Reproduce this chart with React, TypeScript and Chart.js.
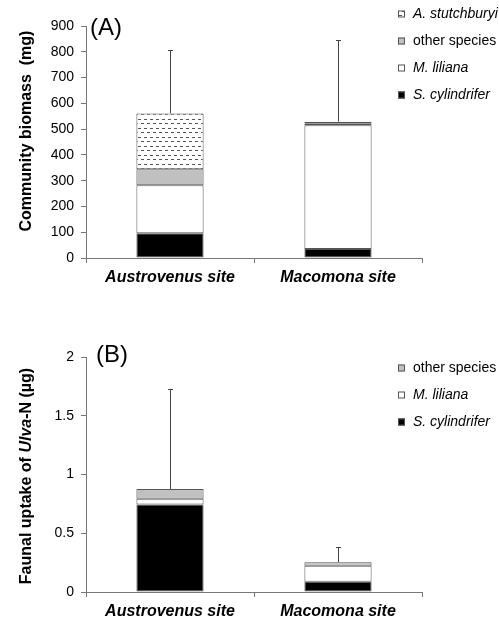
import React, { useEffect, useRef } from "react";
import { Chart, registerables } from "chart.js";

Chart.register(...registerables);

const FONT = "'Liberation Sans', Arial, Helvetica, sans-serif";

// ---------- Data ----------
const categories = ["Austrovenus site", "Macomona site"];

// Panel A: community biomass (mg)
const aSCylindrifer = [96, 35];
const aMLiliana = [186, 480];
const aOtherSpecies = [62, 8];
const aAStutchburyi = [217, 6];
const aErrorUp = [246, 316];
const aYMax = 900;
const aYStep = 100;

// Panel B: faunal uptake of Ulva-N (µg)
const bSCylindrifer = [0.744, 0.088];
const bMLiliana = [0.05, 0.136];
const bOtherSpecies = [0.082, 0.029];
const bErrorUp = [0.853, 0.133];
const bYMax = 2;
const bYStep = 0.5;

const AXIS = "#777";
const EDGE = "#555";
const GRAY = "#c0c0c0";

function makePattern(): CanvasPattern | string {
  const c = document.createElement("canvas");
  c.width = 6;
  c.height = 9;
  const g = c.getContext("2d");
  if (!g) return "#fff";
  g.fillStyle = "#fff";
  g.fillRect(0, 0, 6, 9);
  g.fillStyle = "#555";
  g.fillRect(0, 2, 3, 1);
  g.fillRect(3, 6, 3, 1);
  return g.createPattern(c, "repeat") || "#fff";
}

type LegendItem = { label: string; fill: any; italic: boolean };
type Extra = {
  panel: string;
  panelX: number;
  panelY: number;
  titleParts: { text: string; italic: boolean }[];
  titleX: number;
  titleY: number;
  legend: LegendItem[];
  legendY: number;
  errors: number[];
};

const extrasPlugin = {
  id: "extras",
  afterDatasetsDraw(chart: any, _args: any, opts: Extra) {
    const ctx = chart.ctx;
    const y = chart.scales.y;
    const n = chart.data.datasets.length;
    const lastMeta = chart.getDatasetMeta(n - 1);
    ctx.save();
    ctx.strokeStyle = "#444";
    ctx.lineWidth = 1;
    for (let i = 0; i < chart.data.labels.length; i++) {
      let total = 0;
      for (const ds of chart.data.datasets) total += ds.data[i];
      const x = Math.round(lastMeta.data[i].x) + 0.5;
      const y0 = y.getPixelForValue(total);
      const y1 = Math.round(y.getPixelForValue(total + opts.errors[i])) + 0.5;
      ctx.beginPath();
      ctx.moveTo(x, y0);
      ctx.lineTo(x, y1);
      ctx.moveTo(x - 2.5, y1);
      ctx.lineTo(x + 2.5, y1);
      ctx.stroke();
    }
    ctx.restore();
  },
  afterDraw(chart: any, _args: any, opts: Extra) {
    const ctx = chart.ctx;
    ctx.save();
    // panel label
    ctx.fillStyle = "#000";
    ctx.font = `24px ${FONT}`;
    ctx.textAlign = "left";
    ctx.textBaseline = "middle";
    ctx.fillText(opts.panel, opts.panelX, opts.panelY);
    // y title (rotated, mixed styles)
    ctx.save();
    ctx.translate(opts.titleX, opts.titleY);
    ctx.rotate(-Math.PI / 2);
    let total = 0;
    const widths: number[] = [];
    for (const p of opts.titleParts) {
      ctx.font = `${p.italic ? "italic " : ""}bold 16px ${FONT}`;
      const w = ctx.measureText(p.text).width;
      widths.push(w);
      total += w;
    }
    let cx = -total / 2;
    ctx.textAlign = "left";
    ctx.textBaseline = "middle";
    opts.titleParts.forEach((p, k) => {
      ctx.font = `${p.italic ? "italic " : ""}bold 16px ${FONT}`;
      ctx.fillText(p.text, cx, 0);
      cx += widths[k];
    });
    ctx.restore();
    // legend
    opts.legend.forEach((it, k) => {
      const ly = opts.legendY + k * 27;
      ctx.fillStyle = it.fill;
      ctx.fillRect(398, ly - 3.5, 7, 7);
      ctx.strokeStyle = EDGE;
      ctx.lineWidth = 1;
      ctx.strokeRect(398.5, ly - 3.5 + 0.5, 6, 6);
      ctx.fillStyle = "#000";
      ctx.font = `${it.italic ? "italic " : ""}14px ${FONT}`;
      ctx.textAlign = "left";
      ctx.textBaseline = "middle";
      ctx.fillText(it.label, 413, ly);
    });
    ctx.restore();
  },
};

function buildConfig(
  datasets: any[],
  yMax: number,
  yStep: number,
  padTop: number,
  xHeight: number,
  extra: Extra
): any {
  return {
    type: "bar",
    data: { labels: categories, datasets },
    plugins: [extrasPlugin],
    options: {
      responsive: false,
      animation: false,
      devicePixelRatio: 1,
      layout: { padding: { top: padTop, right: 77, bottom: 0, left: 0 } },
      plugins: {
        legend: { display: false },
        tooltip: { enabled: false },
        extras: extra,
      },
      scales: {
        x: {
          stacked: true,
          grid: {
            display: true,
            drawOnChartArea: false,
            drawTicks: true,
            tickLength: 5,
            color: AXIS,
            offset: true,
          },
          border: { display: true, color: AXIS, width: 1 },
          ticks: {
            color: "#000",
            padding: 5,
            font: { family: FONT, size: 16, style: "italic", weight: "bold" },
          },
          afterFit: (s: any) => {
            s.height = xHeight;
          },
        },
        y: {
          stacked: true,
          min: 0,
          max: yMax,
          grid: {
            display: true,
            drawOnChartArea: false,
            drawTicks: true,
            tickLength: 5,
            color: AXIS,
          },
          border: { display: true, color: AXIS, width: 1 },
          ticks: {
            stepSize: yStep,
            color: "#000",
            padding: 7,
            font: { family: FONT, size: 14 },
            callback: (v: any) => String(Number(v)),
          },
          afterFit: (s: any) => {
            s.width = 86;
          },
        },
      },
    },
  };
}

function barDs(label: string, data: number[], fill: any) {
  return {
    label,
    data,
    backgroundColor: fill,
    borderColor: EDGE,
    borderWidth: 1,
    borderSkipped: false,
    categoryPercentage: 1,
    barPercentage: 0.4,
  };
}

export default function App() {
  const refA = useRef<HTMLCanvasElement>(null);
  const refB = useRef<HTMLCanvasElement>(null);

  useEffect(() => {
    const pattern = makePattern();
    const cA = new Chart(
      refA.current as HTMLCanvasElement,
      buildConfig(
        [
          barDs("S. cylindrifer", aSCylindrifer, "#000"),
          barDs("M. liliana", aMLiliana, "#fff"),
          barDs("other species", aOtherSpecies, GRAY),
          barDs("A. stutchburyi", aAStutchburyi, pattern),
        ],
        aYMax,
        aYStep,
        26,
        42,
        {
          panel: "(A)",
          panelX: 90,
          panelY: 28,
          titleParts: [{ text: "Community biomass  (mg)", italic: false }],
          titleX: 27,
          titleY: 131,
          legend: [
            { label: "A. stutchburyi", fill: pattern, italic: true },
            { label: "other species", fill: GRAY, italic: false },
            { label: "M. liliana", fill: "#fff", italic: true },
            { label: "S. cylindrifer", fill: "#000", italic: true },
          ],
          legendY: 14,
          errors: aErrorUp,
        }
      )
    );
    const cB = new Chart(
      refB.current as HTMLCanvasElement,
      buildConfig(
        [
          barDs("S. cylindrifer", bSCylindrifer, "#000"),
          barDs("M. liliana", bMLiliana, "#fff"),
          barDs("other species", bOtherSpecies, GRAY),
        ],
        bYMax,
        bYStep,
        57,
        29,
        {
          panel: "(B)",
          panelX: 96,
          panelY: 55,
          titleParts: [
            { text: "Faunal uptake of ", italic: false },
            { text: "Ulva", italic: true },
            { text: "-N (\u00b5g)", italic: false },
          ],
          titleX: 27,
          titleY: 176,
          legend: [
            { label: "other species", fill: GRAY, italic: false },
            { label: "M. liliana", fill: "#fff", italic: true },
            { label: "S. cylindrifer", fill: "#000", italic: true },
          ],
          legendY: 68,
          errors: bErrorUp,
        }
      )
    );
    return () => {
      cA.destroy();
      cB.destroy();
    };
  }, []);

  return (
    <div
      style={{
        position: "absolute",
        left: 0,
        top: 0,
        width: 499,
        height: 621,
        background: "#fff",
      }}
    >
      <canvas
        ref={refA}
        width={499}
        height={300}
        style={{ position: "absolute", left: 0, top: 0, width: 499, height: 300 }}
      />
      <canvas
        ref={refB}
        width={499}
        height={321}
        style={{ position: "absolute", left: 0, top: 300, width: 499, height: 321 }}
      />
    </div>
  );
}
